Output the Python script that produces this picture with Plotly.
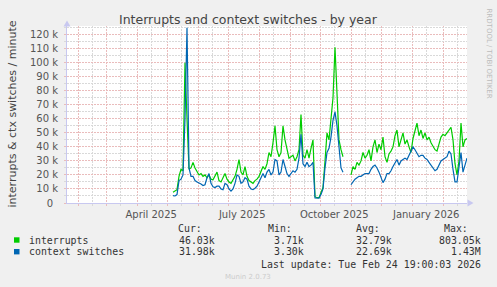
import pandas as pd
import plotly.graph_objects as go

# ---------------- data (values in thousands per minute, one point every 2 days) ----------------
series_start = "2025-05-06 19:00"
step = "2D"
interrupts_k = [
    7.6, 8.5, 9.5, 19, 24, 23, 100, 60, 24, 25, 29, 25, 22, 20, 21, 19, 20, 18, 20, 17,
    16.6, 19, 22, 16, 15, 18, 21, 17, 15, 14, 17, 19, 24, 31, 22, 20, 26, 19, 16, 15,
    14, 16, 17, 19, 22, 26, 24, 28, 36, 33, 43, 55, 38, 33, 36, 55, 45, 38, 32, 33,
    34, 30, 33, 38, 63, 34, 32, 38, 32, 39, 45, 4.5, 3.8, 3.8, 8, 11, 30, 50, 45, 60,
    75, 111, 75, 45, 38, 33, None, None, None, 20, 26, 24, 29, 27, 30, 36, 32, 34, 38, 30,
    40, 45, 36, 42, 38, 47, 33, 29, 35, 37, 40, 48, 52, 40, 45, 50, 42, 45, 40, 36,
    46, 52, 57, 48, 52, 46, 50, 45, 47, 43, 40, 38, 37, 43, 47, 49, 48, 50, 52, 54,
    45, 28, 20, 30, 57, 40, 45, 46,
]
context_switches_k = [
    5.2, 5, 6, 16, 17, 20, 60, 125, 25, 19, 19, 16, 15, 14.5, 13.5, 12.5, 13, 18, 21, 14,
    11.5, 11, 12, 12, 10, 9.5, 14, 13, 10, 8.5, 10, 14, 20, 19, 14, 15, 18, 17, 12, 10,
    9.5, 10.5, 12, 15, 18, 21, 18, 22, 24, 20, 22, 31, 30, 20, 22, 31, 26, 21, 19, 21,
    23, 22, 24, 32, 49, 28, 26, 29, 26, 27, 29, 3.6, 3.4, 3.5, 6, 10, 25, 36, 39, 47,
    59, 65, 55, 40, 25, 22, None, None, None, 13, 15, 17, 18, 19, 19, 20, 21, 21, 21, 24,
    26, 27, 25, 22, 18, 14.5, 17, 21, 21, 23, 26, 29, 31, 27, 30, 31, 32, 31, 34, 38,
    40, 38, 35, 33, 34, 34, 32, 31, 29, 27, 25, 23, 24, 27, 30, 31, 32, 33, 37, 35,
    24, 15, 15, 25, 36, 22, 28, 32,
]
series_names = ["interrupts", "context switches"]
series_colors = ["#00CC00", "#0066B3"]
cur_vals = ["46.03k", "31.98k"]
min_vals = ["3.71k", "3.30k"]
avg_vals = ["32.79k", "22.69k"]
max_vals = ["803.05k", "1.43M"]
y_ticks_k = list(range(0, 121, 10))
x_range = ["2025-01-20 19:00", "2026-02-24 19:00"]
x_label_months = ["2025-04-15", "2025-07-15", "2025-10-15", "2026-01-15"]
x_label_text = ["April 2025", "July 2025", "October 2025", "January 2026"]
title_text = "Interrupts and context switches - by year"
y_title = "interrupts & ctx switches / minute"
last_update = "Last update: Tue Feb 24 19:00:03 2026"

# ---------------- layout geometry (pixels) ----------------
W, H = 497, 287
L, R, T, B = 67, 30, 26, 84
PW, PH = W - L - R, H - T - B


def px(x):
    return (x - L) / PW


def py(y):
    return (H - B - y) / PH


fig = go.Figure()
for name, vals, col in zip(series_names, [interrupts_k, context_switches_k], series_colors):
    dates = pd.date_range(series_start, periods=len(vals), freq=step)
    fig.add_trace(go.Scatter(
        x=dates, y=[None if v is None else v * 1000 for v in vals],
        mode="lines", name=name, line=dict(color=col, width=1.2),
        connectgaps=False, hoverinfo="skip", showlegend=False,
    ))

mid_months = pd.date_range("2025-01-01", "2026-02-28", freq="MS") + pd.Timedelta(days=14)
label_map = dict(zip(pd.to_datetime(x_label_months), x_label_text))
x_tickvals = list(mid_months)
x_ticktext = [label_map.get(d, "") for d in mid_months]

RED = "#EABCBC"
GREY = "#D9D9D9"
AXIS = "#C8C8F0"
DASH = "2px,1px"

fig.update_xaxes(
    type="date", range=x_range, tickmode="array", tickvals=x_tickvals, ticktext=x_ticktext,
    showgrid=True, gridcolor=GREY, griddash=DASH, gridwidth=1,
    ticks="outside", ticklen=2, tickcolor=GREY,
    tickfont=dict(family="DejaVu Sans", size=10, color="#555555"),
    showline=True, linecolor=AXIS, linewidth=1, zeroline=False,
    minor=dict(dtick="M1", tick0="2025-01-01", showgrid=True, gridcolor=RED,
               griddash=DASH, ticks="outside", ticklen=2, tickcolor=RED),
    fixedrange=True,
)
fig.update_yaxes(
    range=[0, 126200], tickmode="array", tickvals=[v * 1000 for v in y_ticks_k],
    ticktext=[("0\u2002" if v == 0 else f"{v} k") for v in y_ticks_k],
    showgrid=True, gridcolor=RED, griddash=DASH, gridwidth=1,
    ticks="outside", ticklen=2, tickcolor=RED,
    tickfont=dict(family="DejaVu Sans", size=10, color="#555555"),
    showline=True, linecolor=AXIS, linewidth=1, zeroline=False,
    minor=dict(dtick=5000, showgrid=True, gridcolor=GREY, griddash=DASH,
               ticks="outside", ticklen=2, tickcolor=GREY),
    ticklabelstandoff=4,
    fixedrange=True,
)

ann = []
ann.append(dict(text=title_text, x=px(248), y=py(19.5), xref="paper", yref="paper",
                showarrow=False, xanchor="center", yanchor="middle",
                font=dict(family="DejaVu Sans", size=12.5, color="#444444")))
ann.append(dict(text=y_title, x=px(11.5), y=py(114), xref="paper", yref="paper",
                showarrow=False, xanchor="center", yanchor="middle", textangle=-90,
                font=dict(family="DejaVu Sans", size=11, color="#444444")))
ann.append(dict(text="RRDTOOL / TOBI OETIKER", x=px(488.5), y=py(53), xref="paper", yref="paper",
                showarrow=False, xanchor="center", yanchor="middle", textangle=90,
                font=dict(family="DejaVu Sans", size=7, color="#BBBBBB")))
ann.append(dict(text="Munin 2.0.73", x=px(248), y=py(276.7), xref="paper", yref="paper",
                showarrow=False, xanchor="center", yanchor="middle",
                font=dict(family="DejaVu Sans", size=7, color="#CCCCCC")))

MONO = dict(family="DejaVu Sans Mono", size=9.9, color="#333333")


def mono(text, xr, yc, anchor="right"):
    ann.append(dict(text=text, x=px(xr), y=py(yc), xref="paper", yref="paper",
                    showarrow=False, xanchor=anchor, yanchor="middle", font=MONO))


header_y, row_y = 228.3, [240, 251.7]
col_right = [216.7, 306, 394, 482.7]
for hdr, xr in zip(["Cur:", "Min:", "Avg:", "Max:"], col_right):
    mono(hdr, xr - 12.5, header_y)
shapes = []
for i, name in enumerate(series_names):
    mono(name, 26.7, row_y[i], anchor="left")
    for vals, xr in zip([cur_vals, min_vals, avg_vals, max_vals], col_right):
        mono(vals[i], xr, row_y[i])
    shapes.append(dict(type="rect", xref="paper", yref="paper",
                       x0=px(14), x1=px(19.5), y0=py(row_y[i] + 2.7), y1=py(row_y[i] - 2.7),
                       fillcolor=series_colors[i], line=dict(width=0)))
mono(last_update, 482.7, 264)

# axis arrows
shapes.append(dict(type="path", xref="paper", yref="paper",
                   path=f"M {px(63.5)} {py(26.5)} L {px(70.5)} {py(26.5)} L {px(67)} {py(20.5)} Z",
                   fillcolor=AXIS, line=dict(width=0)))
shapes.append(dict(type="path", xref="paper", yref="paper",
                   path=f"M {px(467.5)} {py(199.5)} L {px(467.5)} {py(206.5)} L {px(473.5)} {py(203)} Z",
                   fillcolor=AXIS, line=dict(width=0)))

fig.update_layout(
    width=W, height=H, margin=dict(l=L, r=R, t=T, b=B, pad=0),
    paper_bgcolor="#F0F0F0", plot_bgcolor="#FFFFFF",
    annotations=ann, shapes=shapes, showlegend=False,
)

fig.write_html("out.html", config={"displayModeBar": False, "staticPlot": True})
